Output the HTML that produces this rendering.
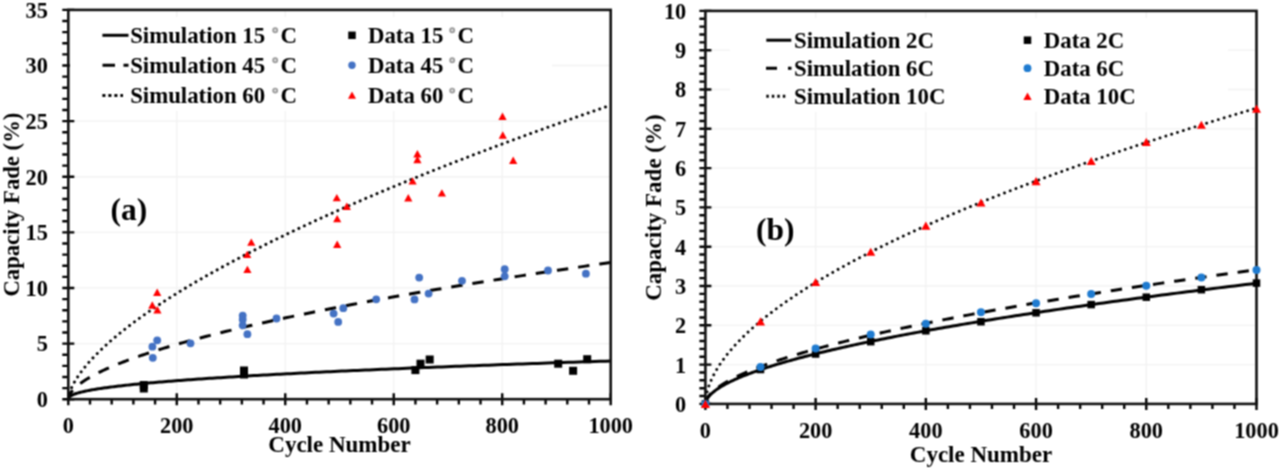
<!DOCTYPE html>
<html><head><meta charset="utf-8"><style>
html,body{margin:0;padding:0;background:#fff;}
svg{display:block;}
text{font-family:"Liberation Serif", serif;font-weight:bold;fill:#000;}
</style></head><body>
<div class="wrap"><svg width="1280" height="468" viewBox="0 0 1280 468">
<defs><filter id="bl" x="0" y="0" width="1" height="1" filterUnits="objectBoundingBox" color-interpolation-filters="sRGB"><feConvolveMatrix order="3" kernelMatrix="1 2 1 2 4 2 1 2 1" divisor="16" edgeMode="duplicate"/></filter></defs>
<g filter="url(#bl)">
<rect width="1280" height="468" fill="#fff"/>
<line x1="176.78" y1="9.90" x2="176.78" y2="399.20" stroke="#f2f2f2" stroke-width="1.3"/>
<line x1="285.26" y1="9.90" x2="285.26" y2="399.20" stroke="#f2f2f2" stroke-width="1.3"/>
<line x1="393.74" y1="9.90" x2="393.74" y2="399.20" stroke="#f2f2f2" stroke-width="1.3"/>
<line x1="502.22" y1="9.90" x2="502.22" y2="399.20" stroke="#f2f2f2" stroke-width="1.3"/>
<line x1="68.30" y1="343.59" x2="610.70" y2="343.59" stroke="#f2f2f2" stroke-width="1.3"/>
<line x1="68.30" y1="287.97" x2="610.70" y2="287.97" stroke="#f2f2f2" stroke-width="1.3"/>
<line x1="68.30" y1="232.36" x2="610.70" y2="232.36" stroke="#f2f2f2" stroke-width="1.3"/>
<line x1="68.30" y1="176.74" x2="610.70" y2="176.74" stroke="#f2f2f2" stroke-width="1.3"/>
<line x1="68.30" y1="121.13" x2="610.70" y2="121.13" stroke="#f2f2f2" stroke-width="1.3"/>
<line x1="68.30" y1="65.51" x2="610.70" y2="65.51" stroke="#f2f2f2" stroke-width="1.3"/>
<path d="M68.30,399.20 L68.31,398.88 L68.35,398.60 L68.42,398.33 L68.52,398.08 L68.64,397.83 L68.79,397.58 L68.96,397.34 L69.17,397.10 L69.40,396.87 L69.66,396.63 L69.94,396.40 L70.25,396.17 L70.59,395.95 L70.96,395.72 L71.35,395.50 L71.77,395.28 L72.22,395.06 L72.69,394.84 L73.20,394.62 L73.72,394.40 L74.28,394.19 L74.86,393.97 L75.47,393.76 L76.11,393.55 L76.78,393.34 L77.47,393.12 L78.19,392.91 L78.93,392.70 L79.70,392.50 L80.50,392.29 L81.33,392.08 L82.19,391.87 L83.07,391.67 L83.98,391.46 L84.91,391.26 L85.87,391.05 L86.86,390.85 L87.88,390.65 L88.92,390.44 L90.00,390.24 L91.09,390.04 L92.22,389.84 L93.37,389.64 L94.55,389.44 L95.76,389.24 L96.99,389.04 L98.25,388.84 L99.54,388.64 L100.86,388.44 L102.20,388.24 L103.57,388.05 L104.97,387.85 L106.39,387.65 L107.84,387.46 L109.32,387.26 L110.82,387.07 L112.36,386.87 L113.92,386.68 L115.50,386.48 L117.12,386.29 L118.76,386.09 L120.42,385.90 L122.12,385.71 L123.84,385.51 L125.59,385.32 L127.37,385.13 L129.17,384.94 L131.00,384.74 L132.86,384.55 L134.74,384.36 L136.66,384.17 L138.60,383.98 L140.56,383.79 L142.55,383.60 L144.58,383.41 L146.62,383.22 L148.70,383.03 L150.80,382.84 L152.93,382.65 L155.08,382.46 L157.27,382.27 L159.48,382.09 L161.71,381.90 L163.98,381.71 L166.27,381.52 L168.59,381.34 L170.94,381.15 L173.31,380.96 L175.71,380.77 L178.14,380.59 L180.59,380.40 L183.07,380.22 L185.58,380.03 L188.12,379.84 L190.68,379.66 L193.27,379.47 L195.89,379.29 L198.53,379.10 L201.20,378.92 L203.90,378.73 L206.63,378.55 L209.38,378.36 L212.16,378.18 L214.96,378.00 L217.80,377.81 L220.66,377.63 L223.55,377.45 L226.46,377.26 L229.41,377.08 L232.38,376.90 L235.37,376.71 L238.40,376.53 L241.45,376.35 L244.53,376.17 L247.63,375.98 L250.76,375.80 L253.92,375.62 L257.11,375.44 L260.32,375.26 L263.56,375.08 L266.83,374.90 L270.13,374.71 L273.45,374.53 L276.80,374.35 L280.18,374.17 L283.58,373.99 L287.01,373.81 L290.47,373.63 L293.95,373.45 L297.46,373.27 L301.00,373.09 L304.57,372.91 L308.16,372.73 L311.78,372.55 L315.43,372.37 L319.11,372.19 L322.81,372.02 L326.54,371.84 L330.29,371.66 L334.08,371.48 L337.89,371.30 L341.72,371.12 L345.59,370.94 L349.48,370.77 L353.40,370.59 L357.34,370.41 L361.32,370.23 L365.32,370.06 L369.35,369.88 L373.40,369.70 L377.48,369.52 L381.59,369.35 L385.73,369.17 L389.89,368.99 L394.08,368.82 L398.30,368.64 L402.54,368.46 L406.81,368.29 L411.11,368.11 L415.44,367.93 L419.79,367.76 L424.17,367.58 L428.58,367.41 L433.01,367.23 L437.47,367.05 L441.96,366.88 L446.47,366.70 L451.02,366.53 L455.59,366.35 L460.18,366.18 L464.81,366.00 L469.46,365.83 L474.14,365.65 L478.84,365.48 L483.58,365.30 L488.33,365.13 L493.12,364.95 L497.94,364.78 L502.78,364.60 L507.64,364.43 L512.54,364.26 L517.46,364.08 L522.41,363.91 L527.39,363.73 L532.39,363.56 L537.42,363.39 L542.48,363.21 L547.56,363.04 L552.68,362.87 L557.82,362.69 L562.98,362.52 L568.18,362.35 L573.40,362.17 L578.64,362.00 L583.92,361.83 L589.22,361.66 L594.55,361.48 L599.91,361.31 L605.29,361.14 L610.70,360.97" stroke="#000" stroke-width="3" fill="none"/>
<path d="M68.30,399.20 L68.31,398.87 L68.35,398.47 L68.42,398.04 L68.52,397.59 L68.64,397.13 L68.79,396.65 L68.96,396.17 L69.17,395.67 L69.40,395.16 L69.66,394.65 L69.94,394.13 L70.25,393.60 L70.59,393.07 L70.96,392.53 L71.35,391.99 L71.77,391.44 L72.22,390.89 L72.69,390.33 L73.20,389.77 L73.72,389.20 L74.28,388.63 L74.86,388.06 L75.47,387.48 L76.11,386.90 L76.78,386.32 L77.47,385.73 L78.19,385.14 L78.93,384.55 L79.70,383.95 L80.50,383.36 L81.33,382.75 L82.19,382.15 L83.07,381.54 L83.98,380.94 L84.91,380.32 L85.87,379.71 L86.86,379.09 L87.88,378.48 L88.92,377.85 L90.00,377.23 L91.09,376.61 L92.22,375.98 L93.37,375.35 L94.55,374.72 L95.76,374.09 L96.99,373.45 L98.25,372.82 L99.54,372.18 L100.86,371.54 L102.20,370.89 L103.57,370.25 L104.97,369.60 L106.39,368.96 L107.84,368.31 L109.32,367.66 L110.82,367.00 L112.36,366.35 L113.92,365.70 L115.50,365.04 L117.12,364.38 L118.76,363.72 L120.42,363.06 L122.12,362.40 L123.84,361.73 L125.59,361.07 L127.37,360.40 L129.17,359.73 L131.00,359.06 L132.86,358.39 L134.74,357.72 L136.66,357.04 L138.60,356.37 L140.56,355.69 L142.55,355.01 L144.58,354.33 L146.62,353.65 L148.70,352.97 L150.80,352.29 L152.93,351.61 L155.08,350.92 L157.27,350.23 L159.48,349.55 L161.71,348.86 L163.98,348.17 L166.27,347.48 L168.59,346.79 L170.94,346.09 L173.31,345.40 L175.71,344.70 L178.14,344.01 L180.59,343.31 L183.07,342.61 L185.58,341.91 L188.12,341.21 L190.68,340.51 L193.27,339.81 L195.89,339.11 L198.53,338.40 L201.20,337.70 L203.90,336.99 L206.63,336.28 L209.38,335.58 L212.16,334.87 L214.96,334.16 L217.80,333.45 L220.66,332.73 L223.55,332.02 L226.46,331.31 L229.41,330.59 L232.38,329.88 L235.37,329.16 L238.40,328.44 L241.45,327.73 L244.53,327.01 L247.63,326.29 L250.76,325.57 L253.92,324.84 L257.11,324.12 L260.32,323.40 L263.56,322.68 L266.83,321.95 L270.13,321.22 L273.45,320.50 L276.80,319.77 L280.18,319.04 L283.58,318.31 L287.01,317.58 L290.47,316.85 L293.95,316.12 L297.46,315.39 L301.00,314.66 L304.57,313.92 L308.16,313.19 L311.78,312.46 L315.43,311.72 L319.11,310.98 L322.81,310.25 L326.54,309.51 L330.29,308.77 L334.08,308.03 L337.89,307.29 L341.72,306.55 L345.59,305.81 L349.48,305.06 L353.40,304.32 L357.34,303.58 L361.32,302.83 L365.32,302.09 L369.35,301.34 L373.40,300.60 L377.48,299.85 L381.59,299.10 L385.73,298.35 L389.89,297.60 L394.08,296.85 L398.30,296.10 L402.54,295.35 L406.81,294.60 L411.11,293.85 L415.44,293.10 L419.79,292.34 L424.17,291.59 L428.58,290.83 L433.01,290.08 L437.47,289.32 L441.96,288.56 L446.47,287.81 L451.02,287.05 L455.59,286.29 L460.18,285.53 L464.81,284.77 L469.46,284.01 L474.14,283.25 L478.84,282.49 L483.58,281.73 L488.33,280.96 L493.12,280.20 L497.94,279.44 L502.78,278.67 L507.64,277.91 L512.54,277.14 L517.46,276.37 L522.41,275.61 L527.39,274.84 L532.39,274.07 L537.42,273.30 L542.48,272.53 L547.56,271.76 L552.68,270.99 L557.82,270.22 L562.98,269.45 L568.18,268.68 L573.40,267.91 L578.64,267.13 L583.92,266.36 L589.22,265.58 L594.55,264.81 L599.91,264.04 L605.29,263.26 L610.70,262.48" stroke="#000" stroke-width="3" fill="none" stroke-dasharray="11.4 10" stroke-dashoffset="1.2"/>
<path d="M68.30,399.20 L68.31,398.85 L68.35,398.35 L68.42,397.78 L68.52,397.15 L68.64,396.48 L68.79,395.78 L68.96,395.04 L69.17,394.27 L69.40,393.47 L69.66,392.65 L69.94,391.81 L70.25,390.95 L70.59,390.06 L70.96,389.16 L71.35,388.24 L71.77,387.31 L72.22,386.35 L72.69,385.39 L73.20,384.40 L73.72,383.41 L74.28,382.40 L74.86,381.38 L75.47,380.34 L76.11,379.29 L76.78,378.24 L77.47,377.16 L78.19,376.08 L78.93,374.99 L79.70,373.89 L80.50,372.77 L81.33,371.65 L82.19,370.52 L83.07,369.37 L83.98,368.22 L84.91,367.06 L85.87,365.89 L86.86,364.71 L87.88,363.52 L88.92,362.32 L90.00,361.12 L91.09,359.90 L92.22,358.68 L93.37,357.45 L94.55,356.22 L95.76,354.97 L96.99,353.72 L98.25,352.46 L99.54,351.20 L100.86,349.92 L102.20,348.64 L103.57,347.35 L104.97,346.06 L106.39,344.76 L107.84,343.45 L109.32,342.14 L110.82,340.81 L112.36,339.49 L113.92,338.15 L115.50,336.81 L117.12,335.47 L118.76,334.12 L120.42,332.76 L122.12,331.39 L123.84,330.02 L125.59,328.65 L127.37,327.27 L129.17,325.88 L131.00,324.49 L132.86,323.09 L134.74,321.69 L136.66,320.28 L138.60,318.86 L140.56,317.44 L142.55,316.02 L144.58,314.59 L146.62,313.15 L148.70,311.71 L150.80,310.27 L152.93,308.82 L155.08,307.36 L157.27,305.90 L159.48,304.44 L161.71,302.96 L163.98,301.49 L166.27,300.01 L168.59,298.53 L170.94,297.04 L173.31,295.54 L175.71,294.05 L178.14,292.54 L180.59,291.04 L183.07,289.52 L185.58,288.01 L188.12,286.49 L190.68,284.96 L193.27,283.43 L195.89,281.90 L198.53,280.36 L201.20,278.82 L203.90,277.27 L206.63,275.72 L209.38,274.17 L212.16,272.61 L214.96,271.04 L217.80,269.48 L220.66,267.91 L223.55,266.33 L226.46,264.75 L229.41,263.17 L232.38,261.58 L235.37,259.99 L238.40,258.40 L241.45,256.80 L244.53,255.20 L247.63,253.59 L250.76,251.98 L253.92,250.37 L257.11,248.75 L260.32,247.13 L263.56,245.50 L266.83,243.87 L270.13,242.24 L273.45,240.61 L276.80,238.97 L280.18,237.32 L283.58,235.68 L287.01,234.03 L290.47,232.38 L293.95,230.72 L297.46,229.06 L301.00,227.39 L304.57,225.73 L308.16,224.06 L311.78,222.38 L315.43,220.70 L319.11,219.02 L322.81,217.34 L326.54,215.65 L330.29,213.96 L334.08,212.27 L337.89,210.57 L341.72,208.87 L345.59,207.16 L349.48,205.46 L353.40,203.75 L357.34,202.03 L361.32,200.32 L365.32,198.60 L369.35,196.87 L373.40,195.15 L377.48,193.42 L381.59,191.69 L385.73,189.95 L389.89,188.21 L394.08,186.47 L398.30,184.73 L402.54,182.98 L406.81,181.23 L411.11,179.48 L415.44,177.72 L419.79,175.96 L424.17,174.20 L428.58,172.43 L433.01,170.66 L437.47,168.89 L441.96,167.12 L446.47,165.34 L451.02,163.56 L455.59,161.78 L460.18,159.99 L464.81,158.20 L469.46,156.41 L474.14,154.62 L478.84,152.82 L483.58,151.02 L488.33,149.22 L493.12,147.41 L497.94,145.61 L502.78,143.80 L507.64,141.98 L512.54,140.17 L517.46,138.35 L522.41,136.53 L527.39,134.70 L532.39,132.87 L537.42,131.05 L542.48,129.21 L547.56,127.38 L552.68,125.54 L557.82,123.70 L562.98,121.86 L568.18,120.01 L573.40,118.16 L578.64,116.31 L583.92,114.46 L589.22,112.60 L594.55,110.75 L599.91,108.89 L605.29,107.02 L610.70,105.16" stroke="#000" stroke-width="3" fill="none" stroke-dasharray="0.01 6.1" stroke-linecap="round"/>
<rect x="139.80" y="381.00" width="8" height="8" fill="#000"/>
<rect x="139.80" y="384.50" width="8" height="8" fill="#000"/>
<rect x="240.00" y="366.50" width="8" height="8" fill="#000"/>
<rect x="240.00" y="370.50" width="8" height="8" fill="#000"/>
<rect x="411.40" y="366.10" width="8" height="8" fill="#000"/>
<rect x="416.50" y="359.70" width="8" height="8" fill="#000"/>
<rect x="425.70" y="355.50" width="8" height="8" fill="#000"/>
<rect x="554.20" y="359.70" width="8" height="8" fill="#000"/>
<rect x="569.10" y="366.80" width="8" height="8" fill="#000"/>
<rect x="583.20" y="355.20" width="8" height="8" fill="#000"/>
<circle cx="157.20" cy="340.30" r="3.9" fill="#4472C4"/>
<circle cx="152.40" cy="346.70" r="3.9" fill="#4472C4"/>
<circle cx="152.80" cy="357.80" r="3.9" fill="#4472C4"/>
<circle cx="190.50" cy="343.30" r="3.9" fill="#4472C4"/>
<circle cx="242.70" cy="315.60" r="3.9" fill="#4472C4"/>
<circle cx="242.70" cy="319.50" r="3.9" fill="#4472C4"/>
<circle cx="242.70" cy="325.30" r="3.9" fill="#4472C4"/>
<circle cx="247.40" cy="334.20" r="3.9" fill="#4472C4"/>
<circle cx="276.50" cy="318.50" r="3.9" fill="#4472C4"/>
<circle cx="333.60" cy="313.60" r="3.9" fill="#4472C4"/>
<circle cx="343.30" cy="308.20" r="3.9" fill="#4472C4"/>
<circle cx="338.20" cy="321.90" r="3.9" fill="#4472C4"/>
<circle cx="376.20" cy="299.30" r="3.9" fill="#4472C4"/>
<circle cx="414.50" cy="299.40" r="3.9" fill="#4472C4"/>
<circle cx="419.20" cy="277.60" r="3.9" fill="#4472C4"/>
<circle cx="428.60" cy="293.60" r="3.9" fill="#4472C4"/>
<circle cx="462.00" cy="280.80" r="3.9" fill="#4472C4"/>
<circle cx="504.70" cy="269.20" r="3.9" fill="#4472C4"/>
<circle cx="504.70" cy="276.30" r="3.9" fill="#4472C4"/>
<circle cx="548.00" cy="270.50" r="3.9" fill="#4472C4"/>
<circle cx="585.90" cy="273.70" r="3.9" fill="#4472C4"/>
<path d="M157.20,288.51 L161.30,295.89 L153.10,295.89 Z" fill="#FF0000"/>
<path d="M152.30,301.31 L156.40,308.69 L148.20,308.69 Z" fill="#FF0000"/>
<path d="M157.40,306.01 L161.50,313.39 L153.30,313.39 Z" fill="#FF0000"/>
<path d="M251.30,238.41 L255.40,245.79 L247.20,245.79 Z" fill="#FF0000"/>
<path d="M247.20,250.71 L251.30,258.09 L243.10,258.09 Z" fill="#FF0000"/>
<path d="M247.40,265.71 L251.50,273.09 L243.30,273.09 Z" fill="#FF0000"/>
<path d="M336.80,193.91 L340.90,201.29 L332.70,201.29 Z" fill="#FF0000"/>
<path d="M346.80,202.61 L350.90,209.99 L342.70,209.99 Z" fill="#FF0000"/>
<path d="M337.20,214.91 L341.30,222.29 L333.10,222.29 Z" fill="#FF0000"/>
<path d="M337.20,240.51 L341.30,247.89 L333.10,247.89 Z" fill="#FF0000"/>
<path d="M417.40,150.01 L421.50,157.39 L413.30,157.39 Z" fill="#FF0000"/>
<path d="M417.40,155.81 L421.50,163.19 L413.30,163.19 Z" fill="#FF0000"/>
<path d="M412.60,177.21 L416.70,184.59 L408.50,184.59 Z" fill="#FF0000"/>
<path d="M408.30,194.01 L412.40,201.39 L404.20,201.39 Z" fill="#FF0000"/>
<path d="M441.90,189.21 L446.00,196.59 L437.80,196.59 Z" fill="#FF0000"/>
<path d="M502.50,112.51 L506.60,119.89 L498.40,119.89 Z" fill="#FF0000"/>
<path d="M502.80,131.31 L506.90,138.69 L498.70,138.69 Z" fill="#FF0000"/>
<path d="M513.20,156.51 L517.30,163.89 L509.10,163.89 Z" fill="#FF0000"/>
<path d="M62.30,399.20H74.30 M62.30,388.08H68.30 M62.30,376.95H68.30 M62.30,365.83H68.30 M62.30,354.71H68.30 M62.30,343.59H74.30 M62.30,332.46H68.30 M62.30,321.34H68.30 M62.30,310.22H68.30 M62.30,299.09H68.30 M62.30,287.97H74.30 M62.30,276.85H68.30 M62.30,265.73H68.30 M62.30,254.60H68.30 M62.30,243.48H68.30 M62.30,232.36H74.30 M62.30,221.23H68.30 M62.30,210.11H68.30 M62.30,198.99H68.30 M62.30,187.87H68.30 M62.30,176.74H74.30 M62.30,165.62H68.30 M62.30,154.50H68.30 M62.30,143.37H68.30 M62.30,132.25H68.30 M62.30,121.13H74.30 M62.30,110.01H68.30 M62.30,98.88H68.30 M62.30,87.76H68.30 M62.30,76.64H68.30 M62.30,65.51H74.30 M62.30,54.39H68.30 M62.30,43.27H68.30 M62.30,32.15H68.30 M62.30,21.02H68.30 M62.30,9.90H74.30 M68.30,393.20V405.20 M90.00,399.20V404.40 M111.69,399.20V404.40 M133.39,399.20V404.40 M155.08,399.20V404.40 M176.78,393.20V405.20 M198.48,399.20V404.40 M220.17,399.20V404.40 M241.87,399.20V404.40 M263.56,399.20V404.40 M285.26,393.20V405.20 M306.96,399.20V404.40 M328.65,399.20V404.40 M350.35,399.20V404.40 M372.04,399.20V404.40 M393.74,393.20V405.20 M415.44,399.20V404.40 M437.13,399.20V404.40 M458.83,399.20V404.40 M480.52,399.20V404.40 M502.22,393.20V405.20 M523.92,399.20V404.40 M545.61,399.20V404.40 M567.31,399.20V404.40 M589.00,399.20V404.40 M610.70,393.20V405.20" stroke="#000" stroke-width="2.4" fill="none"/>
<rect x="68.30" y="9.90" width="542.40" height="389.30" stroke="#111" stroke-width="2.6" fill="none"/>
<line x1="815.62" y1="10.90" x2="815.62" y2="403.90" stroke="#f2f2f2" stroke-width="1.3"/>
<line x1="925.84" y1="10.90" x2="925.84" y2="403.90" stroke="#f2f2f2" stroke-width="1.3"/>
<line x1="1036.06" y1="10.90" x2="1036.06" y2="403.90" stroke="#f2f2f2" stroke-width="1.3"/>
<line x1="1146.28" y1="10.90" x2="1146.28" y2="403.90" stroke="#f2f2f2" stroke-width="1.3"/>
<line x1="705.40" y1="364.60" x2="1256.50" y2="364.60" stroke="#f2f2f2" stroke-width="1.3"/>
<line x1="705.40" y1="325.30" x2="1256.50" y2="325.30" stroke="#f2f2f2" stroke-width="1.3"/>
<line x1="705.40" y1="286.00" x2="1256.50" y2="286.00" stroke="#f2f2f2" stroke-width="1.3"/>
<line x1="705.40" y1="246.70" x2="1256.50" y2="246.70" stroke="#f2f2f2" stroke-width="1.3"/>
<line x1="705.40" y1="207.40" x2="1256.50" y2="207.40" stroke="#f2f2f2" stroke-width="1.3"/>
<line x1="705.40" y1="168.10" x2="1256.50" y2="168.10" stroke="#f2f2f2" stroke-width="1.3"/>
<line x1="705.40" y1="128.80" x2="1256.50" y2="128.80" stroke="#f2f2f2" stroke-width="1.3"/>
<line x1="705.40" y1="89.50" x2="1256.50" y2="89.50" stroke="#f2f2f2" stroke-width="1.3"/>
<line x1="705.40" y1="50.20" x2="1256.50" y2="50.20" stroke="#f2f2f2" stroke-width="1.3"/>
<path d="M705.40,403.90 L705.41,403.53 L705.46,403.12 L705.52,402.68 L705.62,402.23 L705.74,401.76 L705.90,401.29 L706.08,400.81 L706.28,400.33 L706.52,399.84 L706.78,399.34 L707.07,398.84 L707.38,398.33 L707.73,397.83 L708.10,397.31 L708.50,396.80 L708.93,396.28 L709.38,395.76 L709.86,395.23 L710.37,394.70 L710.91,394.17 L711.48,393.64 L712.07,393.10 L712.69,392.57 L713.34,392.03 L714.01,391.48 L714.71,390.94 L715.44,390.39 L716.20,389.85 L716.99,389.30 L717.80,388.74 L718.64,388.19 L719.51,387.64 L720.40,387.08 L721.33,386.52 L722.28,385.96 L723.26,385.40 L724.26,384.84 L725.29,384.27 L726.36,383.71 L727.44,383.14 L728.56,382.57 L729.70,382.00 L730.87,381.43 L732.07,380.86 L733.30,380.29 L734.55,379.71 L735.83,379.14 L737.14,378.56 L738.48,377.98 L739.84,377.41 L741.24,376.83 L742.65,376.24 L744.10,375.66 L745.58,375.08 L747.08,374.50 L748.61,373.91 L750.16,373.32 L751.75,372.74 L753.36,372.15 L755.00,371.56 L756.67,370.97 L758.36,370.38 L760.08,369.79 L761.83,369.20 L763.61,368.60 L765.41,368.01 L767.25,367.41 L769.11,366.82 L770.99,366.22 L772.91,365.62 L774.85,365.03 L776.82,364.43 L778.82,363.83 L780.85,363.23 L782.90,362.62 L784.98,362.02 L787.09,361.42 L789.22,360.82 L791.39,360.21 L793.58,359.61 L795.79,359.00 L798.04,358.39 L800.31,357.79 L802.61,357.18 L804.94,356.57 L807.30,355.96 L809.68,355.35 L812.09,354.74 L814.53,354.13 L817.00,353.52 L819.49,352.91 L822.01,352.29 L824.56,351.68 L827.14,351.07 L829.74,350.45 L832.37,349.83 L835.03,349.22 L837.72,348.60 L840.43,347.98 L843.17,347.37 L845.94,346.75 L848.74,346.13 L851.57,345.51 L854.42,344.89 L857.30,344.27 L860.20,343.65 L863.14,343.03 L866.10,342.40 L869.09,341.78 L872.11,341.16 L875.15,340.53 L878.22,339.91 L881.32,339.28 L884.45,338.66 L887.61,338.03 L890.79,337.41 L894.00,336.78 L897.24,336.15 L900.50,335.52 L903.80,334.90 L907.12,334.27 L910.46,333.64 L913.84,333.01 L917.24,332.38 L920.67,331.75 L924.13,331.11 L927.62,330.48 L931.13,329.85 L934.67,329.22 L938.24,328.58 L941.84,327.95 L945.46,327.32 L949.11,326.68 L952.79,326.05 L956.49,325.41 L960.23,324.78 L963.99,324.14 L967.78,323.50 L971.60,322.86 L975.44,322.23 L979.31,321.59 L983.21,320.95 L987.14,320.31 L991.09,319.67 L995.07,319.03 L999.08,318.39 L1003.12,317.75 L1007.18,317.11 L1011.27,316.47 L1015.39,315.83 L1019.54,315.19 L1023.72,314.54 L1027.92,313.90 L1032.15,313.26 L1036.40,312.61 L1040.69,311.97 L1045.00,311.32 L1049.34,310.68 L1053.71,310.03 L1058.10,309.39 L1062.53,308.74 L1066.98,308.10 L1071.45,307.45 L1075.96,306.80 L1080.49,306.15 L1085.05,305.51 L1089.64,304.86 L1094.26,304.21 L1098.90,303.56 L1103.57,302.91 L1108.27,302.26 L1112.99,301.61 L1117.75,300.96 L1122.53,300.31 L1127.34,299.66 L1132.17,299.01 L1137.04,298.36 L1141.93,297.70 L1146.84,297.05 L1151.79,296.40 L1156.76,295.74 L1161.77,295.09 L1166.79,294.44 L1171.85,293.78 L1176.93,293.13 L1182.05,292.47 L1187.19,291.82 L1192.35,291.16 L1197.55,290.51 L1202.77,289.85 L1208.02,289.19 L1213.29,288.54 L1218.60,287.88 L1223.93,287.22 L1229.29,286.57 L1234.68,285.91 L1240.09,285.25 L1245.53,284.59 L1251.00,283.93 L1256.50,283.27" stroke="#000" stroke-width="3" fill="none"/>
<path d="M705.40,403.90 L705.41,403.53 L705.46,403.10 L705.52,402.64 L705.62,402.17 L705.74,401.68 L705.90,401.18 L706.08,400.67 L706.28,400.15 L706.52,399.63 L706.78,399.10 L707.07,398.56 L707.38,398.02 L707.73,397.47 L708.10,396.92 L708.50,396.37 L708.93,395.81 L709.38,395.24 L709.86,394.67 L710.37,394.10 L710.91,393.53 L711.48,392.95 L712.07,392.37 L712.69,391.78 L713.34,391.20 L714.01,390.61 L714.71,390.01 L715.44,389.42 L716.20,388.82 L716.99,388.22 L717.80,387.62 L718.64,387.02 L719.51,386.41 L720.40,385.80 L721.33,385.19 L722.28,384.58 L723.26,383.96 L724.26,383.35 L725.29,382.73 L726.36,382.11 L727.44,381.49 L728.56,380.86 L729.70,380.24 L730.87,379.61 L732.07,378.98 L733.30,378.35 L734.55,377.72 L735.83,377.09 L737.14,376.45 L738.48,375.81 L739.84,375.18 L741.24,374.54 L742.65,373.90 L744.10,373.25 L745.58,372.61 L747.08,371.97 L748.61,371.32 L750.16,370.67 L751.75,370.02 L753.36,369.37 L755.00,368.72 L756.67,368.07 L758.36,367.42 L760.08,366.76 L761.83,366.11 L763.61,365.45 L765.41,364.79 L767.25,364.13 L769.11,363.47 L770.99,362.81 L772.91,362.15 L774.85,361.48 L776.82,360.82 L778.82,360.15 L780.85,359.49 L782.90,358.82 L784.98,358.15 L787.09,357.48 L789.22,356.81 L791.39,356.14 L793.58,355.47 L795.79,354.79 L798.04,354.12 L800.31,353.44 L802.61,352.77 L804.94,352.09 L807.30,351.41 L809.68,350.73 L812.09,350.05 L814.53,349.37 L817.00,348.69 L819.49,348.01 L822.01,347.33 L824.56,346.64 L827.14,345.96 L829.74,345.27 L832.37,344.59 L835.03,343.90 L837.72,343.21 L840.43,342.52 L843.17,341.83 L845.94,341.14 L848.74,340.45 L851.57,339.76 L854.42,339.07 L857.30,338.37 L860.20,337.68 L863.14,336.98 L866.10,336.29 L869.09,335.59 L872.11,334.90 L875.15,334.20 L878.22,333.50 L881.32,332.80 L884.45,332.10 L887.61,331.40 L890.79,330.70 L894.00,330.00 L897.24,329.30 L900.50,328.59 L903.80,327.89 L907.12,327.18 L910.46,326.48 L913.84,325.77 L917.24,325.07 L920.67,324.36 L924.13,323.65 L927.62,322.94 L931.13,322.23 L934.67,321.53 L938.24,320.81 L941.84,320.10 L945.46,319.39 L949.11,318.68 L952.79,317.97 L956.49,317.26 L960.23,316.54 L963.99,315.83 L967.78,315.11 L971.60,314.40 L975.44,313.68 L979.31,312.96 L983.21,312.25 L987.14,311.53 L991.09,310.81 L995.07,310.09 L999.08,309.37 L1003.12,308.65 L1007.18,307.93 L1011.27,307.21 L1015.39,306.49 L1019.54,305.77 L1023.72,305.04 L1027.92,304.32 L1032.15,303.60 L1036.40,302.87 L1040.69,302.15 L1045.00,301.42 L1049.34,300.70 L1053.71,299.97 L1058.10,299.24 L1062.53,298.52 L1066.98,297.79 L1071.45,297.06 L1075.96,296.33 L1080.49,295.60 L1085.05,294.87 L1089.64,294.14 L1094.26,293.41 L1098.90,292.68 L1103.57,291.95 L1108.27,291.22 L1112.99,290.48 L1117.75,289.75 L1122.53,289.02 L1127.34,288.28 L1132.17,287.55 L1137.04,286.81 L1141.93,286.08 L1146.84,285.34 L1151.79,284.60 L1156.76,283.87 L1161.77,283.13 L1166.79,282.39 L1171.85,281.65 L1176.93,280.92 L1182.05,280.18 L1187.19,279.44 L1192.35,278.70 L1197.55,277.96 L1202.77,277.21 L1208.02,276.47 L1213.29,275.73 L1218.60,274.99 L1223.93,274.25 L1229.29,273.50 L1234.68,272.76 L1240.09,272.02 L1245.53,271.27 L1251.00,270.53 L1256.50,269.78" stroke="#000" stroke-width="3" fill="none" stroke-dasharray="11.4 9.96" stroke-dashoffset="-0.44"/>
<path d="M705.40,403.90 L705.41,403.06 L705.46,402.09 L705.52,401.06 L705.62,400.00 L705.74,398.91 L705.90,397.79 L706.08,396.66 L706.28,395.50 L706.52,394.34 L706.78,393.15 L707.07,391.96 L707.38,390.75 L707.73,389.53 L708.10,388.31 L708.50,387.07 L708.93,385.82 L709.38,384.57 L709.86,383.31 L710.37,382.04 L710.91,380.76 L711.48,379.48 L712.07,378.18 L712.69,376.89 L713.34,375.59 L714.01,374.28 L714.71,372.96 L715.44,371.64 L716.20,370.32 L716.99,368.99 L717.80,367.65 L718.64,366.32 L719.51,364.97 L720.40,363.62 L721.33,362.27 L722.28,360.91 L723.26,359.55 L724.26,358.19 L725.29,356.82 L726.36,355.45 L727.44,354.07 L728.56,352.69 L729.70,351.30 L730.87,349.92 L732.07,348.53 L733.30,347.13 L734.55,345.73 L735.83,344.33 L737.14,342.93 L738.48,341.52 L739.84,340.11 L741.24,338.70 L742.65,337.28 L744.10,335.86 L745.58,334.44 L747.08,333.02 L748.61,331.59 L750.16,330.16 L751.75,328.72 L753.36,327.29 L755.00,325.85 L756.67,324.41 L758.36,322.97 L760.08,321.52 L761.83,320.07 L763.61,318.62 L765.41,317.17 L767.25,315.71 L769.11,314.26 L770.99,312.80 L772.91,311.33 L774.85,309.87 L776.82,308.40 L778.82,306.93 L780.85,305.46 L782.90,303.99 L784.98,302.51 L787.09,301.04 L789.22,299.56 L791.39,298.08 L793.58,296.59 L795.79,295.11 L798.04,293.62 L800.31,292.13 L802.61,290.64 L804.94,289.15 L807.30,287.65 L809.68,286.16 L812.09,284.66 L814.53,283.16 L817.00,281.65 L819.49,280.15 L822.01,278.65 L824.56,277.14 L827.14,275.63 L829.74,274.12 L832.37,272.61 L835.03,271.09 L837.72,269.57 L840.43,268.06 L843.17,266.54 L845.94,265.02 L848.74,263.49 L851.57,261.97 L854.42,260.45 L857.30,258.92 L860.20,257.39 L863.14,255.86 L866.10,254.33 L869.09,252.79 L872.11,251.26 L875.15,249.72 L878.22,248.18 L881.32,246.65 L884.45,245.10 L887.61,243.56 L890.79,242.02 L894.00,240.47 L897.24,238.93 L900.50,237.38 L903.80,235.83 L907.12,234.28 L910.46,232.73 L913.84,231.17 L917.24,229.62 L920.67,228.06 L924.13,226.51 L927.62,224.95 L931.13,223.39 L934.67,221.83 L938.24,220.26 L941.84,218.70 L945.46,217.14 L949.11,215.57 L952.79,214.00 L956.49,212.43 L960.23,210.86 L963.99,209.29 L967.78,207.72 L971.60,206.15 L975.44,204.57 L979.31,202.99 L983.21,201.42 L987.14,199.84 L991.09,198.26 L995.07,196.68 L999.08,195.10 L1003.12,193.51 L1007.18,191.93 L1011.27,190.34 L1015.39,188.76 L1019.54,187.17 L1023.72,185.58 L1027.92,183.99 L1032.15,182.40 L1036.40,180.81 L1040.69,179.21 L1045.00,177.62 L1049.34,176.02 L1053.71,174.43 L1058.10,172.83 L1062.53,171.23 L1066.98,169.63 L1071.45,168.03 L1075.96,166.43 L1080.49,164.83 L1085.05,163.22 L1089.64,161.62 L1094.26,160.01 L1098.90,158.40 L1103.57,156.80 L1108.27,155.19 L1112.99,153.58 L1117.75,151.97 L1122.53,150.35 L1127.34,148.74 L1132.17,147.13 L1137.04,145.51 L1141.93,143.90 L1146.84,142.28 L1151.79,140.66 L1156.76,139.04 L1161.77,137.42 L1166.79,135.80 L1171.85,134.18 L1176.93,132.56 L1182.05,130.93 L1187.19,129.31 L1192.35,127.68 L1197.55,126.06 L1202.77,124.43 L1208.02,122.80 L1213.29,121.17 L1218.60,119.54 L1223.93,117.91 L1229.29,116.28 L1234.68,114.65 L1240.09,113.01 L1245.53,111.38 L1251.00,109.74 L1256.50,108.11" stroke="#000" stroke-width="2.9" fill="none" stroke-dasharray="0.01 6.1" stroke-linecap="round"/>
<path d="M699.40,403.90H711.40 M699.40,396.04H705.40 M699.40,388.18H705.40 M699.40,380.32H705.40 M699.40,372.46H705.40 M699.40,364.60H711.40 M699.40,356.74H705.40 M699.40,348.88H705.40 M699.40,341.02H705.40 M699.40,333.16H705.40 M699.40,325.30H711.40 M699.40,317.44H705.40 M699.40,309.58H705.40 M699.40,301.72H705.40 M699.40,293.86H705.40 M699.40,286.00H711.40 M699.40,278.14H705.40 M699.40,270.28H705.40 M699.40,262.42H705.40 M699.40,254.56H705.40 M699.40,246.70H711.40 M699.40,238.84H705.40 M699.40,230.98H705.40 M699.40,223.12H705.40 M699.40,215.26H705.40 M699.40,207.40H711.40 M699.40,199.54H705.40 M699.40,191.68H705.40 M699.40,183.82H705.40 M699.40,175.96H705.40 M699.40,168.10H711.40 M699.40,160.24H705.40 M699.40,152.38H705.40 M699.40,144.52H705.40 M699.40,136.66H705.40 M699.40,128.80H711.40 M699.40,120.94H705.40 M699.40,113.08H705.40 M699.40,105.22H705.40 M699.40,97.36H705.40 M699.40,89.50H711.40 M699.40,81.64H705.40 M699.40,73.78H705.40 M699.40,65.92H705.40 M699.40,58.06H705.40 M699.40,50.20H711.40 M699.40,42.34H705.40 M699.40,34.48H705.40 M699.40,26.62H705.40 M699.40,18.76H705.40 M699.40,10.90H711.40 M705.40,397.90V409.90 M727.44,403.90V409.10 M749.49,403.90V409.10 M771.53,403.90V409.10 M793.58,403.90V409.10 M815.62,397.90V409.90 M837.66,403.90V409.10 M859.71,403.90V409.10 M881.75,403.90V409.10 M903.80,403.90V409.10 M925.84,397.90V409.90 M947.88,403.90V409.10 M969.93,403.90V409.10 M991.97,403.90V409.10 M1014.02,403.90V409.10 M1036.06,397.90V409.90 M1058.10,403.90V409.10 M1080.15,403.90V409.10 M1102.19,403.90V409.10 M1124.24,403.90V409.10 M1146.28,397.90V409.90 M1168.32,403.90V409.10 M1190.37,403.90V409.10 M1212.41,403.90V409.10 M1234.46,403.90V409.10 M1256.50,397.90V409.90" stroke="#000" stroke-width="2.4" fill="none"/>
<rect x="705.40" y="10.90" width="551.10" height="393.00" stroke="#111" stroke-width="2.6" fill="none"/>
<rect x="701.65" y="400.15" width="7.5" height="7.5" fill="#000"/>
<rect x="756.76" y="365.76" width="7.5" height="7.5" fill="#000"/>
<rect x="811.87" y="350.24" width="7.5" height="7.5" fill="#000"/>
<rect x="866.98" y="337.94" width="7.5" height="7.5" fill="#000"/>
<rect x="922.09" y="327.05" width="7.5" height="7.5" fill="#000"/>
<rect x="977.20" y="318.01" width="7.5" height="7.5" fill="#000"/>
<rect x="1032.31" y="309.05" width="7.5" height="7.5" fill="#000"/>
<rect x="1087.42" y="300.84" width="7.5" height="7.5" fill="#000"/>
<rect x="1142.53" y="293.45" width="7.5" height="7.5" fill="#000"/>
<rect x="1197.64" y="285.94" width="7.5" height="7.5" fill="#000"/>
<rect x="1252.75" y="279.34" width="7.5" height="7.5" fill="#000"/>
<circle cx="705.40" cy="403.90" r="4.0" fill="#1f7bd0"/>
<circle cx="760.51" cy="366.96" r="4.0" fill="#1f7bd0"/>
<circle cx="815.62" cy="348.60" r="4.0" fill="#1f7bd0"/>
<circle cx="870.73" cy="334.61" r="4.0" fill="#1f7bd0"/>
<circle cx="925.84" cy="323.73" r="4.0" fill="#1f7bd0"/>
<circle cx="980.95" cy="312.21" r="4.0" fill="#1f7bd0"/>
<circle cx="1036.06" cy="303.29" r="4.0" fill="#1f7bd0"/>
<circle cx="1091.17" cy="294.02" r="4.0" fill="#1f7bd0"/>
<circle cx="1146.28" cy="285.80" r="4.0" fill="#1f7bd0"/>
<circle cx="1201.39" cy="277.59" r="4.0" fill="#1f7bd0"/>
<circle cx="1256.50" cy="269.89" r="4.0" fill="#1f7bd0"/>
<path d="M705.40,399.85 L709.90,407.95 L700.90,407.95 Z" fill="#FF0000"/>
<path d="M760.51,317.32 L765.01,325.42 L756.01,325.42 Z" fill="#FF0000"/>
<path d="M815.62,278.02 L820.12,286.12 L811.12,286.12 Z" fill="#FF0000"/>
<path d="M870.73,247.64 L875.23,255.74 L866.23,255.74 Z" fill="#FF0000"/>
<path d="M925.84,221.55 L930.34,229.65 L921.34,229.65 Z" fill="#FF0000"/>
<path d="M980.95,198.44 L985.45,206.54 L976.45,206.54 Z" fill="#FF0000"/>
<path d="M1036.06,177.06 L1040.56,185.16 L1031.56,185.16 Z" fill="#FF0000"/>
<path d="M1091.17,156.98 L1095.67,165.08 L1086.67,165.08 Z" fill="#FF0000"/>
<path d="M1146.28,137.84 L1150.78,145.94 L1141.78,145.94 Z" fill="#FF0000"/>
<path d="M1201.39,120.66 L1205.89,128.76 L1196.89,128.76 Z" fill="#FF0000"/>
<path d="M1256.50,104.55 L1261.00,112.65 L1252.00,112.65 Z" fill="#FF0000"/>
<rect x="70" y="17" width="482" height="94" fill="#fff"/>
<rect x="730" y="18" width="498" height="94" fill="#fff"/>
<line x1="102.4" y1="35.3" x2="128.5" y2="35.3" stroke="#000" stroke-width="3"/>
<path d="M102.5,65.3H115 M123.5,65.3H128.5" stroke="#000" stroke-width="3"/>
<line x1="102.4" y1="95.6" x2="123" y2="95.6" stroke="#000" stroke-width="3" stroke-dasharray="3 3"/>
<circle cx="275.2" cy="30.30" r="2.1" fill="#ddd" stroke="#999" stroke-width="1.7"/>
<circle cx="275.2" cy="60.30" r="2.1" fill="#ddd" stroke="#999" stroke-width="1.7"/>
<circle cx="275.2" cy="90.60" r="2.1" fill="#ddd" stroke="#999" stroke-width="1.7"/>
<rect x="348.25" y="31.55" width="7.5" height="7.5" fill="#000"/>
<circle cx="352.00" cy="65.30" r="3.7" fill="#4472C4"/>
<path d="M352.00,91.50 L356.00,98.70 L348.00,98.70 Z" fill="#FF0000"/>
<circle cx="452.20" cy="30.30" r="2.1" fill="#ddd" stroke="#999" stroke-width="1.7"/>
<circle cx="452.20" cy="60.30" r="2.1" fill="#ddd" stroke="#999" stroke-width="1.7"/>
<circle cx="452.20" cy="90.60" r="2.1" fill="#ddd" stroke="#999" stroke-width="1.7"/>
<line x1="766.3" y1="40.2" x2="791.3" y2="40.2" stroke="#000" stroke-width="3"/>
<path d="M766,68.2H777 M788,68.2H791.5" stroke="#000" stroke-width="3"/>
<line x1="766.3" y1="96.2" x2="787" y2="96.2" stroke="#000" stroke-width="3" stroke-dasharray="2.5 3"/>
<rect x="1023.75" y="36.45" width="7.5" height="7.5" fill="#000"/>
<circle cx="1027.50" cy="68.20" r="3.9" fill="#1f7bd0"/>
<path d="M1027.50,92.47 L1031.65,99.94 L1023.35,99.94 Z" fill="#FF0000"/>
<text x="47.80" y="407.10" font-size="22.3" text-anchor="end" >0</text>
<text x="47.80" y="351.49" font-size="22.3" text-anchor="end" >5</text>
<text x="47.80" y="295.87" font-size="22.3" text-anchor="end" >10</text>
<text x="47.80" y="240.26" font-size="22.3" text-anchor="end" >15</text>
<text x="47.80" y="184.64" font-size="22.3" text-anchor="end" >20</text>
<text x="47.80" y="129.03" font-size="22.3" text-anchor="end" >25</text>
<text x="47.80" y="73.41" font-size="22.3" text-anchor="end" >30</text>
<text x="47.80" y="17.80" font-size="22.3" text-anchor="end" >35</text>
<text x="68.30" y="433.20" font-size="22.3" text-anchor="middle" >0</text>
<text x="176.78" y="433.20" font-size="22.3" text-anchor="middle" >200</text>
<text x="285.26" y="433.20" font-size="22.3" text-anchor="middle" >400</text>
<text x="393.74" y="433.20" font-size="22.3" text-anchor="middle" >600</text>
<text x="502.22" y="433.20" font-size="22.3" text-anchor="middle" >800</text>
<text x="610.70" y="433.20" font-size="22.3" text-anchor="middle" >1000</text>
<text x="686.20" y="411.80" font-size="22.3" text-anchor="end" >0</text>
<text x="686.20" y="372.50" font-size="22.3" text-anchor="end" >1</text>
<text x="686.20" y="333.20" font-size="22.3" text-anchor="end" >2</text>
<text x="686.20" y="293.90" font-size="22.3" text-anchor="end" >3</text>
<text x="686.20" y="254.60" font-size="22.3" text-anchor="end" >4</text>
<text x="686.20" y="215.30" font-size="22.3" text-anchor="end" >5</text>
<text x="686.20" y="176.00" font-size="22.3" text-anchor="end" >6</text>
<text x="686.20" y="136.70" font-size="22.3" text-anchor="end" >7</text>
<text x="686.20" y="97.40" font-size="22.3" text-anchor="end" >8</text>
<text x="686.20" y="58.10" font-size="22.3" text-anchor="end" >9</text>
<text x="686.20" y="18.80" font-size="22.3" text-anchor="end" >10</text>
<text x="705.40" y="438.20" font-size="22.3" text-anchor="middle" >0</text>
<text x="815.62" y="438.20" font-size="22.3" text-anchor="middle" >200</text>
<text x="925.84" y="438.20" font-size="22.3" text-anchor="middle" >400</text>
<text x="1036.06" y="438.20" font-size="22.3" text-anchor="middle" >600</text>
<text x="1146.28" y="438.20" font-size="22.3" text-anchor="middle" >800</text>
<text x="1256.50" y="438.20" font-size="22.3" text-anchor="middle" >1000</text>
<text x="339.50" y="451.60" font-size="23" text-anchor="middle" >Cycle Number</text>
<text x="981.00" y="462.00" font-size="23" text-anchor="middle" >Cycle Number</text>
<text transform="translate(18.9,204.6) rotate(-90)" font-size="22.7" text-anchor="middle">Capacity Fade (%)</text>
<text transform="translate(660.8,207.6) rotate(-90)" font-size="23" text-anchor="middle">Capacity Fade (%)</text>
<text x="110.50" y="219.50" font-size="31.5" text-anchor="start" >(a)</text>
<text x="756.00" y="239.50" font-size="31.5" text-anchor="start" >(b)</text>
<text x="130.20" y="42.80" font-size="22.8" text-anchor="start" >Simulation 15</text>
<text x="280.50" y="42.80" font-size="22.8" text-anchor="start" >C</text>
<text x="130.20" y="72.80" font-size="22.8" text-anchor="start" >Simulation 45</text>
<text x="280.50" y="72.80" font-size="22.8" text-anchor="start" >C</text>
<text x="130.20" y="103.10" font-size="22.8" text-anchor="start" >Simulation 60</text>
<text x="280.50" y="103.10" font-size="22.8" text-anchor="start" >C</text>
<text x="368.00" y="42.80" font-size="22.8" text-anchor="start" >Data 15</text>
<text x="457.50" y="42.80" font-size="22.8" text-anchor="start" >C</text>
<text x="368.00" y="72.80" font-size="22.8" text-anchor="start" >Data 45</text>
<text x="457.50" y="72.80" font-size="22.8" text-anchor="start" >C</text>
<text x="368.00" y="103.10" font-size="22.8" text-anchor="start" >Data 60</text>
<text x="457.50" y="103.10" font-size="22.8" text-anchor="start" >C</text>
<text x="794.00" y="47.70" font-size="22.8" text-anchor="start" >Simulation 2C</text>
<text x="794.00" y="75.70" font-size="22.8" text-anchor="start" >Simulation 6C</text>
<text x="794.00" y="103.70" font-size="22.8" text-anchor="start" >Simulation 10C</text>
<text x="1043.80" y="47.70" font-size="22.8" text-anchor="start" >Data 2C</text>
<text x="1043.80" y="75.70" font-size="22.8" text-anchor="start" >Data 6C</text>
<text x="1043.80" y="103.70" font-size="22.8" text-anchor="start" >Data 10C</text>
</g>
</svg></div>
</body></html>
